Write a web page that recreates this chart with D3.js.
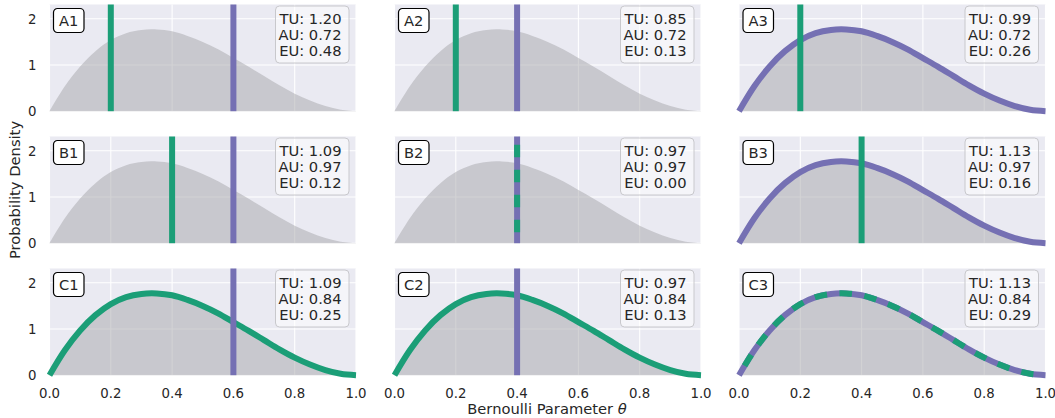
<!DOCTYPE html>
<html>
<head>
<meta charset="utf-8">
<script src="https://cdn.jsdelivr.net/npm/d3@7"></script>
<style>
  html, body { margin: 0; padding: 0; background: #ffffff; }
  svg { display: block; font-family: "DejaVu Sans", sans-serif; }
</style>
</head>
<body>
<svg id="chart" width="1055" height="418"></svg>
<script>
// Shared prior density over the Bernoulli parameter
const thetaGrid = [0, 0.05, 0.1, 0.15, 0.2, 0.25, 0.3, 0.35, 0.4, 0.45, 0.5,
                   0.55, 0.6, 0.65, 0.7, 0.75, 0.8, 0.85, 0.9, 0.95, 1.0];
const densityValues = [0, 0.54, 0.97, 1.30, 1.54, 1.69, 1.76, 1.77, 1.73, 1.63, 1.50,
                       1.34, 1.15, 0.96, 0.76, 0.56, 0.38, 0.23, 0.11, 0.03, 0];

// One entry per panel, row-major (A1..C3)
const panelLabels = ["A1", "A2", "A3", "B1", "B2", "B3", "C1", "C2", "C3"];
const tuValues = [1.20, 0.85, 0.99, 1.09, 0.97, 1.13, 1.09, 0.97, 1.13];
const auValues = [0.72, 0.72, 0.72, 0.97, 0.97, 0.97, 0.84, 0.84, 0.84];
const euValues = [0.48, 0.13, 0.26, 0.12, 0.00, 0.16, 0.25, 0.13, 0.29];
// Point estimate of theta; null means the full density curve is used
const greenTheta  = [0.2, 0.2, 0.2, 0.4, 0.4, 0.4, null, null, null];
const purpleTheta = [0.6, 0.4, null, 0.6, 0.4, null, 0.6, 0.4, null];

const xTicks = [0.0, 0.2, 0.4, 0.6, 0.8, 1.0];
const yTicks = [0, 1, 2];

const GREEN = "#1b9e77";
const PURPLE = "#7570b3";
const LW = 6;
const DASH = "12.5,12.5";

const svg = d3.select("#chart");

const colX = [49.5, 394.5, 739];
const rowY = [4.5, 136.5, 268.5];
const pw = 306.5, ph = 106.7;

const x = d3.scaleLinear().domain([0, 1]).range([0, pw]);
const y = d3.scaleLinear().domain([0, 2.31]).range([ph, 0]);

const pts = thetaGrid.map((t, i) => [t, densityValues[i]]);
const area = d3.area().x(d => x(d[0])).y0(y(0)).y1(d => y(d[1])).curve(d3.curveCatmullRom);
const line = d3.line().x(d => x(d[0])).y(d => y(d[1])).curve(d3.curveCatmullRom);

panelLabels.forEach((lab, i) => {
  const r = Math.floor(i / 3), c = i % 3;
  const g = svg.append("g").attr("transform", `translate(${colX[c]},${rowY[r]})`);

  g.append("rect").attr("width", pw).attr("height", ph).attr("fill", "#eaeaf2");

  // grid
  g.selectAll(".gx").data(xTicks).join("line")
    .attr("x1", d => x(d)).attr("x2", d => x(d))
    .attr("y1", 0).attr("y2", ph)
    .attr("stroke", "#ffffff").attr("stroke-width", 1.1);
  g.selectAll(".gy").data(yTicks).join("line")
    .attr("x1", 0).attr("x2", pw)
    .attr("y1", d => y(d)).attr("y2", d => y(d))
    .attr("stroke", "#ffffff").attr("stroke-width", 1.1);

  // prior density fill
  g.append("path").datum(pts).attr("d", area)
    .attr("fill", "#a6a6aa").attr("fill-opacity", 0.5);

  const gT = greenTheta[i], pT = purpleTheta[i];

  // density curves
  if (pT === null) {
    g.append("path").datum(pts).attr("d", line)
      .attr("fill", "none").attr("stroke", PURPLE).attr("stroke-width", LW);
  }
  if (gT === null) {
    const p = g.append("path").datum(pts).attr("d", line)
      .attr("fill", "none").attr("stroke", GREEN).attr("stroke-width", LW);
    if (pT === null) p.attr("stroke-dasharray", DASH).attr("stroke-dashoffset", 14);
  }

  // point estimates as vertical lines
  if (pT !== null) {
    g.append("line").attr("x1", x(pT)).attr("x2", x(pT)).attr("y1", ph).attr("y2", 0)
      .attr("stroke", PURPLE).attr("stroke-width", LW);
  }
  if (gT !== null) {
    const l = g.append("line").attr("x1", x(gT)).attr("x2", x(gT)).attr("y1", ph).attr("y2", 0)
      .attr("stroke", GREEN).attr("stroke-width", LW);
    if (pT === gT) l.attr("stroke-dasharray", DASH).attr("stroke-dashoffset", 14);
  }

  // panel tag
  const tag = g.append("g").attr("transform", "translate(4,4)");
  tag.append("rect").attr("width", 30.5).attr("height", 24).attr("rx", 4)
    .attr("fill", "#ffffff").attr("stroke", "#000000").attr("stroke-width", 1.2);
  tag.append("text").attr("x", 15.25).attr("y", 17.5).attr("text-anchor", "middle")
    .attr("font-size", 14.7).attr("fill", "#262626").text(lab);

  // uncertainty summary
  const box = g.append("g").attr("transform", `translate(${pw - 80.5},1.5)`);
  box.append("rect").attr("width", 73.5).attr("height", 57).attr("rx", 4)
    .attr("fill", "#ffffff").attr("fill-opacity", 0.5)
    .attr("stroke", "#c8c8cc").attr("stroke-width", 1);
  const lines = [`TU: ${tuValues[i].toFixed(2)}`, `AU: ${auValues[i].toFixed(2)}`, `EU: ${euValues[i].toFixed(2)}`];
  box.selectAll("text").data(lines).join("text")
    .attr("x", 66).attr("y", (d, k) => 17.5 + k * 16.2)
    .attr("text-anchor", "end").attr("font-size", 14.7).attr("fill", "#262626")
    .text(d => d);

  // axes
  if (c === 0) {
    g.selectAll(".yt").data(yTicks).join("text")
      .attr("x", -13).attr("y", d => y(d)).attr("dy", "0.36em")
      .attr("text-anchor", "end").attr("font-size", 13.3).attr("fill", "#262626")
      .text(d => d3.format("d")(d));
  }
  if (r === 2) {
    g.selectAll(".xt").data(xTicks).join("text")
      .attr("x", d => x(d)).attr("y", ph + 23)
      .attr("text-anchor", "middle").attr("font-size", 13.3).attr("fill", "#262626")
      .text(d => d3.format(".1f")(d));
  }
});

// axis titles
svg.append("text")
  .attr("transform", "translate(20,190) rotate(-90)")
  .attr("text-anchor", "middle").attr("font-size", 14.7).attr("fill", "#262626")
  .text("Probability Density");

const xl = svg.append("text")
  .attr("x", 547).attr("y", 414)
  .attr("text-anchor", "middle").attr("font-size", 14.7).attr("fill", "#262626");
xl.append("tspan").text("Bernoulli Parameter ");
xl.append("tspan").attr("font-style", "italic").text("θ");
</script>
</body>
</html>
